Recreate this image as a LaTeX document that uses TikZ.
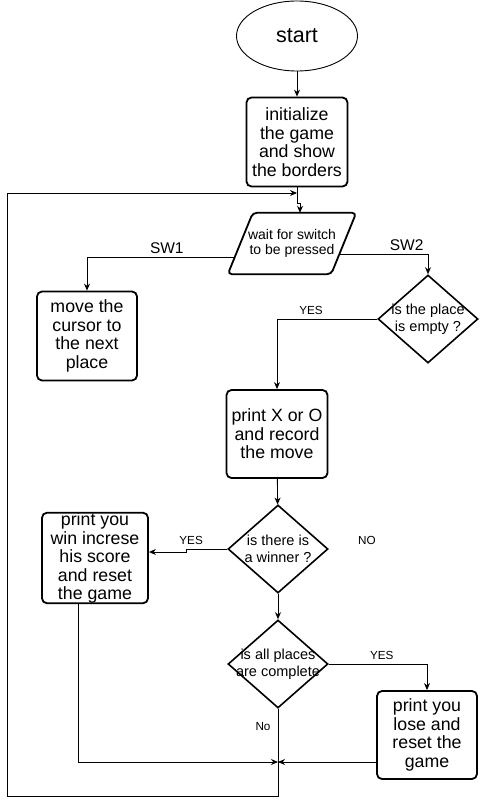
\documentclass[tikz,border=0pt]{standalone}
\usepackage{fontspec}
\setmainfont{Liberation Sans}
\usetikzlibrary{shapes.geometric,arrows.meta}

\tikzset{every picture/.append style={x=1pt,y=-1pt}}
\tikzset{
  terminal/.style={draw, ellipse, line width=0.9pt, minimum width=121pt, minimum height=70pt,
    font=\fontsize{21.5}{24}\selectfont},
  procbox/.style={draw, rectangle, rounded corners=5pt, line width=1.8pt, minimum width=101pt,
    minimum height=89pt, inner sep=0pt, align=center, font=\fontsize{17.75}{18.5}\selectfont},
  iobox/.style={rectangle, minimum width=128pt, minimum height=61pt, inner sep=0pt, align=center,
    font=\fontsize{14}{14.5}\selectfont},
  ioedge/.style={line width=1.8pt, rounded corners=4pt},
  decision/.style={draw, diamond, line width=1.6pt, minimum width=100pt, minimum height=88pt, inner sep=0pt},
  dectext/.style={align=center, inner sep=0pt, font=\fontsize{14.5}{16.5}\selectfont},
  flow/.style={line width=0.9pt, -{Stealth[length=7pt,width=6pt]}},
  answer/.style={font=\fontsize{11.7}{13}\selectfont, inner sep=3.5pt},
  switch/.style={font=\fontsize{15.5}{17}\selectfont, inner sep=3pt},
}

\begin{document}
\begin{tikzpicture}
  \useasboundingbox (0,0) rectangle (479,805);
  \node[terminal] (start) at (297,36) {start};
  \node[procbox] (init) at (297,142) {initialize\\the game\\and show\\the borders};
  \node[iobox] (wait) at (292,243.5) {wait for switch\\to be pressed};
  \draw[ioedge] (wait.south west) -- ([xshift=25pt]wait.north west) -- (wait.north east)
    -- ([xshift=-25pt]wait.south east) -- cycle;
  \node[procbox, minimum width=100pt] (move) at (87,336) {move the\\cursor to\\the next\\place};
  \node[decision, label={[dectext]center:is the place\\is empty ?}] (empty) at (428,319) {};
  \node[procbox, minimum height=88pt] (print) at (277,434) {print X or O\\and record\\the move};
  \node[decision, label={[dectext]center:is there is\\a winner ?}] (winner) at (278,549) {};
  \node[procbox, minimum width=106pt, minimum height=88pt] (win) at (95,558) {print you\\win increse\\his score\\and reset\\the game};
  \node[decision, label={[dectext]center:is all places\\are complete}] (full) at (278,664) {};
  \node[procbox, minimum width=100pt, minimum height=88pt] (lose) at (427,735) {print you\\lose and\\reset the\\game};
  \node[answer] (no) at (367,540) {NO};
  \node[answer] (nofull) at (263,727) {No};
  \coordinate (loopin) at (297,193);
  \coordinate (merge) at (278,762);
  \coordinate (corner) at (7,796);

  \draw[flow] (start) -- (init);
  \draw[flow] (init.south) -- ++(0,16) -| ([xshift=8pt]wait.north);
  \draw[flow] ([xshift=7pt,yshift=17pt]wait.south west) -| node[switch, pos=0.23, above] {SW1} (move.north);
  \draw[flow] ([xshift=-17pt,yshift=20pt]wait.south east) -| node[switch, pos=0.38, above] {SW2} (empty.north);
  \draw[flow] (empty.west) -| node[answer, pos=0.33, above] {YES} (print.north);
  \draw[flow] (print) -- (winner);
  \draw[flow] (winner.west) -- node[answer, pos=0.88, above] {YES} ++(-41,0) |- ([yshift=6pt]win.east);
  \draw[flow] (winner) -- (full);
  \draw[flow] (full.east) -| node[answer, pos=0.27, above] {YES} (lose.north);
  \draw[flow] ([xshift=-17pt]win.south) |- (merge);
  \draw[flow] (lose.west |- merge) -- (merge);
  \draw[flow] (full.south) |- (corner) |- (loopin);
\end{tikzpicture}
\end{document}
